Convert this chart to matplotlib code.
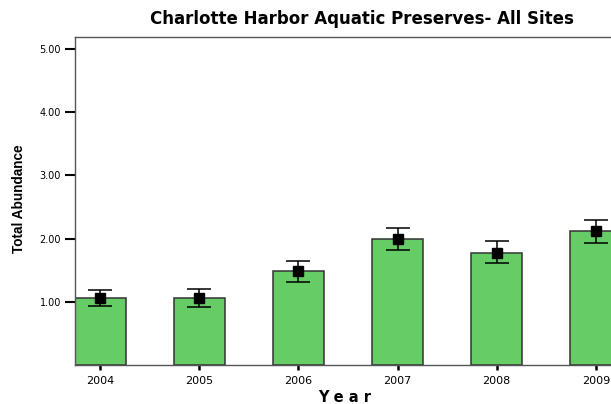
import numpy as np
import matplotlib
matplotlib.use("Agg")
import matplotlib.pyplot as plt

years = ["2004", "2005", "2006", "2007", "2008", "2009"]
means = [1.06, 1.06, 1.48, 1.99, 1.78, 2.12]
err_hi = [1.18, 1.20, 1.65, 2.17, 1.96, 2.29]
err_lo = [0.93, 0.91, 1.32, 1.82, 1.62, 1.93]

plt.rcParams["font.family"] = ["DejaVu Sans"]

fig = plt.figure(figsize=(6.11, 4.04), dpi=100)
# axes runs off the right edge like the original
ax = fig.add_axes([75 / 611, 1 - 365 / 404, (611 - 75) / 611, (365 - 37) / 404])

x = np.arange(len(years))
ax.bar(x, means, width=0.52, color="#66cc66", edgecolor="#333333", linewidth=1.1, zorder=2)
yerr = [np.array(means) - np.array(err_lo), np.array(err_hi) - np.array(means)]
ax.errorbar(x, means, yerr=yerr, fmt="s", color="black", markersize=6.7,
            ecolor="black", elinewidth=1.1, capsize=8.6, capthick=1.1, zorder=3)

ax.set_xlim(-0.254, 5.153)
ax.set_ylim(0, 5.19)
ax.set_xticks(x)
ax.set_xticklabels(years, fontsize=8)
ax.set_yticks([1, 2, 3, 4, 5])
ax.set_yticklabels(["1.00", "2.00", "3.00", "4.00", "5.00"], fontsize=7)
ax.tick_params(axis="y", direction="out", length=7.2, width=1.5, pad=3)
ax.tick_params(axis="x", direction="out", length=3.6, width=1.8, pad=4)
ax.spines["right"].set_visible(False)
for s in ["left", "top", "bottom"]:
    ax.spines[s].set_color("#555555")
    ax.spines[s].set_linewidth(1.0)

fig.text(362 / 611, 1 - 19 / 404, "Charlotte Harbor Aquatic Preserves- All Sites",
         ha="center", va="center", fontsize=12, fontweight="bold")
fig.text(19 / 611, 1 - 199 / 404, "Total Abundance", rotation=90, ha="center", va="center",
         fontsize=9.8, fontweight="bold", family=["Liberation Sans Narrow", "Liberation Sans"])
fig.text(345 / 611, 1 - 397 / 404, "Y e a r", ha="center", va="center",
         fontsize=10.5, fontweight="bold")

fig.savefig("out.png", dpi=100)
